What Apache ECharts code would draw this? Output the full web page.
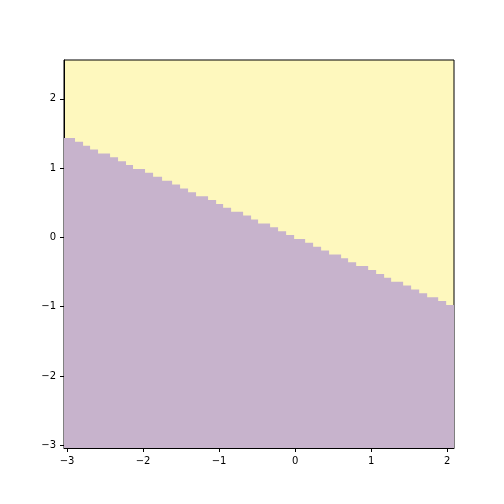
<!DOCTYPE html><html><head><meta charset="utf-8"><script src="https://cdn.jsdelivr.net/npm/echarts@6/dist/echarts.min.js"></script></head><body style="margin:0"><div id="c" style="width:504px;height:504px"></div><script>
const xRange=[-3.04,2.09], yRange=[-3.04,2.56];
const stepEdges=[-2.895,-2.789,-2.697,-2.592,-2.434,-2.329,-2.224,-2.132,-1.974,-1.868,-1.750,-1.618,-1.513,-1.408,-1.303,-1.145,-1.039,-0.947,-0.842,-0.684,-0.579,-0.487,-0.329,-0.224,-0.118,-0.013,0.132,0.237,0.342,0.447,0.605,0.697,0.803,0.961,1.066,1.171,1.263,1.421,1.526,1.632,1.737,1.882,1.987];
const levels=[1.436,1.380,1.324,1.268,1.212,1.156,1.100,1.043,0.987,0.931,0.875,0.819,0.763,0.707,0.651,0.595,0.539,0.483,0.426,0.370,0.314,0.258,0.202,0.146,0.090,0.034,-0.022,-0.078,-0.134,-0.190,-0.246,-0.302,-0.358,-0.414,-0.470,-0.527,-0.583,-0.639,-0.695,-0.751,-0.807,-0.863,-0.919,-0.975];
const ticks=[-3,-2,-1,0,1,2];
const pts=[[xRange[0],levels[0]]];
stepEdges.forEach((e,i)=>pts.push([e,levels[i+1]]));
pts.push([xRange[1],levels[levels.length-1]]);
const ax=(r)=>({type:'value',min:r[0],max:r[1],interval:1,
 axisLine:{show:true,onZero:false,lineStyle:{color:'#000',width:1}},
 axisTick:{show:true,length:4,lineStyle:{color:'#000'},customValues:ticks},
 axisLabel:{color:'#000',fontSize:10,fontFamily:'DejaVu Sans',customValues:ticks,formatter:v=>String(v).replace('-','\u2212')},
 splitLine:{show:false}});
const c=echarts.init(document.getElementById('c'));
c.setOption({animation:false,
 grid:{left:64,right:50,top:60,bottom:56,show:true,backgroundColor:'#fef8be',borderColor:'#000',borderWidth:1},
 xAxis:ax(xRange),yAxis:ax(yRange),
 series:[{type:'line',data:pts,step:'end',symbol:'none',lineStyle:{width:0},
  areaStyle:{color:'#c7b3cc',opacity:1,origin:'start'}}]});
</script></body></html>
